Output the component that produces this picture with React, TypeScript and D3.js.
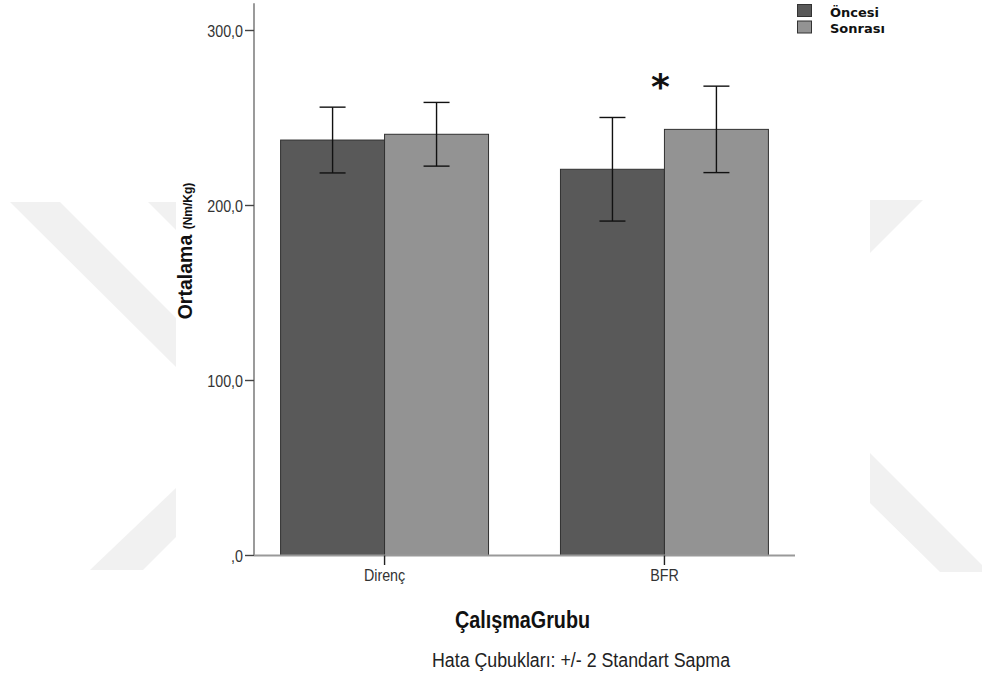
import React from "react";
import * as d3 from "d3";

// Grouped bar chart: mean torque (Nm/Kg) before / after, by study group, ±2 SD error bars
const categories: string[] = ["Direnç", "BFR"];
const seriesNames: string[] = ["Öncesi", "Sonrası"];
const meansOncesi: number[] = [237.4, 220.7];
const meansSonrasi: number[] = [240.7, 243.5];
const twoSdOncesi: number[] = [18.8, 29.6];
const twoSdSonrasi: number[] = [18.2, 24.7];
const yTicks: number[] = [0, 100, 200, 300];
const significantGroups: string[] = ["BFR"];

const W = 982;
const H = 677;
const SY = 1.18; // vertical text stretch

const seriesFill: Record<string, string> = {
  "Öncesi": "#595959",
  "Sonrası": "#939393",
};

const fmtTick = (v: number) => (v === 0 ? ",0" : v.toFixed(1).replace(".", ","));

export default function App() {
  const x0 = d3
    .scaleBand<string>()
    .domain(categories)
    .range([254, 795])
    .paddingInner(0.257)
    .paddingOuter(0.095);
  const x1 = d3.scaleBand<string>().domain(seriesNames).range([0, x0.bandwidth()]);
  const y = d3.scaleLinear().domain([0, 315]).range([555.5, 4.25]);

  const rows = categories.flatMap((c, i) => [
    { cat: c, s: "Öncesi", mean: meansOncesi[i], err: twoSdOncesi[i] },
    { cat: c, s: "Sonrası", mean: meansSonrasi[i], err: twoSdSonrasi[i] },
  ]);

  const sans = "'Liberation Sans', Arial, sans-serif";
  const capW = 26;
  const wm = "#f1f1f1";

  return (
    <svg
      width={W}
      height={H}
      style={{ position: "absolute", left: 0, top: 0, background: "#fff" }}
    >
      {/* faint background watermark shapes */}
      <g fill={wm}>
        <polygon points="10,202 60,202 176,318 176,367" />
        <polygon points="148,202 176,202 176,230" />
        <polygon points="176,488 176,537 143,570 90,570" />
        <polygon points="870,200 923,200 870,253" />
        <polygon points="870,453 989,572 940,572 870,503" />
      </g>

      {/* bars */}
      {rows.map((r, i) => {
        const bx = (x0(r.cat) as number) + (x1(r.s) as number);
        return (
          <rect
            key={"b" + i}
            x={bx}
            y={y(r.mean)}
            width={x1.bandwidth()}
            height={y(0) - y(r.mean)}
            fill={seriesFill[r.s]}
            stroke="#303030"
            strokeWidth={1}
          />
        );
      })}

      {/* error bars */}
      {rows.map((r, i) => {
        const cx = (x0(r.cat) as number) + (x1(r.s) as number) + x1.bandwidth() / 2;
        const yt = y(r.mean + r.err);
        const yb = y(r.mean - r.err);
        return (
          <g key={"e" + i} stroke="#111" strokeWidth={1.4} fill="none">
            <line x1={cx} x2={cx} y1={yt} y2={yb} />
            <line x1={cx - capW / 2} x2={cx + capW / 2} y1={yt} y2={yt} />
            <line x1={cx - capW / 2} x2={cx + capW / 2} y1={yb} y2={yb} />
          </g>
        );
      })}

      {/* y axis */}
      <line x1={254} x2={254} y1={y.range()[1] - 1} y2={y(0)} stroke="#707070" strokeWidth={1.4} />
      {yTicks.map((t) => (
        <g key={"yt" + t}>
          <line x1={245} x2={254} y1={y(t)} y2={y(t)} stroke="#444" strokeWidth={1.4} />
          <text
            transform={`translate(243,${y(t) + 6}) scale(1,${SY})`}
            textAnchor="end"
            fontFamily={sans}
            fontSize={14.3}
            fill="#333"
          >
            {fmtTick(t)}
          </text>
        </g>
      ))}

      {/* x axis */}
      <line x1={254} x2={795} y1={y(0)} y2={y(0)} stroke="#999" strokeWidth={2} />
      {categories.map((c) => {
        const cx = (x0(c) as number) + x0.bandwidth() / 2;
        return (
          <g key={"xt" + c}>
            <line x1={cx} x2={cx} y1={y(0)} y2={565} stroke="#222" strokeWidth={1.4} />
            <text
              transform={`translate(${cx},581) scale(1,${SY})`}
              textAnchor="middle"
              fontFamily={sans}
              fontSize={14.3}
              fill="#333"
            >
              {c}
            </text>
          </g>
        );
      })}

      {/* significance marker */}
      {significantGroups.map((c) => {
        const cx = (x0(c) as number) + x0.bandwidth() / 2 - 4;
        return (
          <text
            key={"sig" + c}
            x={cx}
            y={99}
            textAnchor="middle"
            fontFamily="'DejaVu Sans', sans-serif"
            fontWeight="bold"
            fontSize={36}
            fill="#111"
          >
            *
          </text>
        );
      })}

      {/* axis titles */}
      <text
        transform="translate(192,251) rotate(-90)"
        textAnchor="middle"
        fontFamily={sans}
        fontWeight="bold"
        fill="#111"
      >
        <tspan fontSize={19.5}>Ortalama </tspan>
        <tspan fontSize={12}>(Nm/Kg)</tspan>
      </text>
      <text
        transform={`translate(522.5,628) scale(1,${SY})`}
        textAnchor="middle"
        fontFamily={sans}
        fontWeight="bold"
        fontSize={19.8}
        fill="#111"
      >
        ÇalışmaGrubu
      </text>
      <text
        transform={`translate(581,667) scale(1,${SY})`}
        textAnchor="middle"
        fontFamily={sans}
        fontSize={17.8}
        fill="#222"
      >
        Hata Çubukları: +/- 2 Standart Sapma
      </text>

      {/* legend */}
      {seriesNames.map((s, i) => (
        <g key={"lg" + s}>
          <rect
            x={797.5}
            y={4.5 + i * 16.5}
            width={14}
            height={12}
            fill={seriesFill[s]}
            stroke="#333"
            strokeWidth={1}
          />
          <text
            x={830}
            y={16.5 + i * 16.5}
            fontFamily="'DejaVu Sans', sans-serif"
            fontWeight="bold"
            fontSize={13}
            fill="#111"
          >
            {s}
          </text>
        </g>
      ))}
    </svg>
  );
}
